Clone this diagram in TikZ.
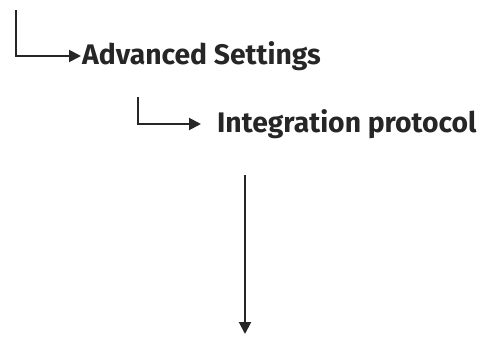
\documentclass[tikz,border=0pt]{standalone}
\usepackage{fontspec}
\setmainfont{Fira Sans}
\usetikzlibrary{
    arrows.meta,
}
\newcommand{\labelsize}{\fontsize{28.3}{31}\selectfont\bfseries}
\tikzstyle{steparrow} = [-{Triangle[length=12pt, width=12pt]}, line width=2pt, color=black!85]
\tikzstyle{menulabel} = [
  anchor=west,
  inner sep=1pt,
  color=black!85,
  font=\labelsize,
]

\begin{document}
\begin{tikzpicture}[x=1pt, y=-1pt]
    \useasboundingbox (0, 0) rectangle (488, 337);
    \coordinate (advtop) at (16, 10);
    \node[menulabel] (advanced) at (81, 56) {Advanced Settings};
    \coordinate (inttop) at (138, 97);
    \node[menulabel] (integration) at (216, 124) {Integration protocol};
    \coordinate (downtop) at (245, 175);
    \coordinate (downend) at (245, 334);
    \draw[steparrow] (advtop) |- (advanced.west);
    \draw[steparrow, shorten >=15pt] (inttop) |- (integration.west);
    \draw[steparrow] (downtop) -- (downend);
\end{tikzpicture}
\end{document}
